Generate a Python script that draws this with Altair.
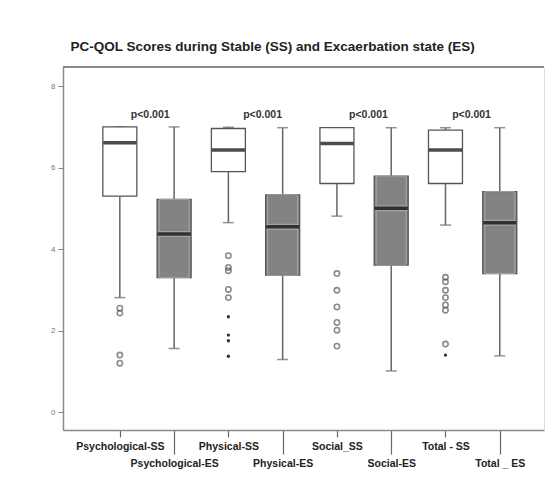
import altair as alt
import pandas as pd

categories = ["Psychological-SS", "Psychological-ES", "Physical-SS", "Physical-ES",
              "Social_SS", "Social-ES", "Total - SS", "Total _ ES"]
groups = ["SS", "ES", "SS", "ES", "SS", "ES", "SS", "ES"]
whisker_low = [2.81, 1.56, 4.65, 1.29, 4.81, 1.01, 4.59, 1.38]
q1 = [5.30, 3.30, 5.90, 3.36, 5.61, 3.61, 5.61, 3.40]
median = [6.61, 4.37, 6.43, 4.55, 6.59, 5.00, 6.43, 4.65]
q3 = [7.00, 5.22, 6.96, 5.33, 6.98, 5.79, 6.92, 5.41]
whisker_high = [7.00, 7.00, 6.99, 6.98, 6.98, 6.98, 6.98, 6.98]

# outliers (circles) and extremes (stars): category index, value
outlier_cat = [0, 0, 0, 0, 2, 2, 2, 2, 2, 4, 4, 4, 4, 4, 4, 6, 6, 6, 6, 6, 6, 6]
outlier_val = [2.55, 2.43, 1.40, 1.20, 3.84, 3.55, 3.47, 3.01, 2.81,
               3.40, 2.99, 2.58, 2.20, 2.01, 1.62,
               3.31, 3.20, 2.99, 2.81, 2.63, 2.50, 1.67]
extreme_cat = [2, 2, 2, 2, 6]
extreme_val = [2.34, 1.89, 1.75, 1.37, 1.40]

p_text = ["p<0.001", "p<0.001", "p<0.001", "p<0.001"]
p_pos = [0.56, 2.63, 4.58, 6.48]
p_val = [7.30, 7.30, 7.30, 7.30]

title = "PC-QOL Scores during Stable (SS) and Excaerbation state (ES)"

boxes = pd.DataFrame({
    "pos": list(range(len(categories))), "cat": categories, "group": groups,
    "lo": whisker_low, "q1": q1, "med": median, "q3": q3, "hi": whisker_high,
})
outl = pd.DataFrame({"pos": outlier_cat, "v": outlier_val})
extr = pd.DataFrame({"pos": extreme_cat, "v": extreme_val})
pdf = pd.DataFrame({"pos": p_pos, "v": p_val, "t": p_text})

W, H = 481, 363
names_js = "[" + ",".join("'" + c + "'" for c in categories) + "]"
label_expr = f"{names_js}[datum.value]"

xscale = alt.Scale(domain=[-0.955, 7.723], nice=False, zero=False)
yscale = alt.Scale(domain=[-0.44, 8.47], nice=False, zero=False)

xaxis = alt.Axis(values=list(range(len(categories))), labelExpr=label_expr, title=None,
                 grid=False, domainColor="#8a8a8a", domainWidth=1.5,
                 tickColor="#666", tickWidth=1.2,
                 tickSize={"condition": {"test": "datum.value % 2 == 1", "value": 24}, "value": 7},
                 labelFont="Liberation Sans", labelFontWeight="bold", labelFontSize=10.5,
                 labelColor="#222", labelPadding=4, labelBaseline="top",
                 labelFlush=False, labelOverlap=False, labelBound=False)
yaxis = alt.Axis(values=[0, 2, 4, 6, 8], title=None, grid=False,
                 domainColor="#8a8a8a", domainWidth=1.5, tickColor="#888", tickSize=5,
                 labelFont="Liberation Sans", labelFontSize=8, labelColor="#777",
                 labelPadding=3)

X = alt.X("pos:Q", scale=xscale, axis=xaxis)
Y_lo = alt.Y("lo:Q", scale=yscale, axis=yaxis)

base = alt.Chart(boxes)

whisk_lo = base.mark_rule(color="#666", strokeWidth=1.5).encode(x=X, y=Y_lo, y2="q1:Q")
whisk_hi = base.mark_rule(color="#666", strokeWidth=1.5).encode(x=X, y=alt.Y("q3:Q", scale=yscale), y2="hi:Q")
cap_lo = base.mark_tick(orient="horizontal", size=11, thickness=1.5, color="#666").encode(
    x=X, y=alt.Y("lo:Q", scale=yscale))
cap_hi = base.mark_tick(orient="horizontal", size=11, thickness=1.5, color="#666").encode(
    x=X, y=alt.Y("hi:Q", scale=yscale))
box = base.mark_bar(size=34, stroke="#555", strokeWidth=1.3).encode(
    x=X, y=alt.Y("q1:Q", scale=yscale), y2="q3:Q",
    fill=alt.Fill("group:N", scale=alt.Scale(domain=["SS", "ES"], range=["#ffffff", "#838383"]),
                  legend=None))
inner = base.transform_filter("datum.group == 'ES'").mark_bar(
    size=30, fill=None, stroke="#a6a6a6", strokeWidth=1).encode(
    x=X, y=alt.Y("q1:Q", scale=yscale), y2="q3:Q")
med_halo = base.transform_filter("datum.group == 'ES'").mark_tick(
    orient="horizontal", size=32, thickness=6, color="#b0b0b0").encode(
    x=X, y=alt.Y("med:Q", scale=yscale))
med = base.mark_tick(orient="horizontal", size=33, thickness=3.5, color="#000").encode(
    x=X, y=alt.Y("med:Q", scale=yscale))

out_pts = alt.Chart(outl).mark_point(shape="circle", size=28, filled=False, color="#5a5a5a",
                                     strokeWidth=1.6).encode(
    x=alt.X("pos:Q", scale=xscale), y=alt.Y("v:Q", scale=yscale))
ext_pts = alt.Chart(extr).mark_point(shape="circle", size=11, filled=True, color="#333",
                                     opacity=1).encode(
    x=alt.X("pos:Q", scale=xscale), y=alt.Y("v:Q", scale=yscale))
ptxt = alt.Chart(pdf).mark_text(font="Liberation Sans", fontWeight="bold", fontSize=10.5,
                                color="#333", baseline="middle").encode(
    x=alt.X("pos:Q", scale=xscale), y=alt.Y("v:Q", scale=yscale), text="t:N")

top_line = alt.Chart(boxes).mark_rule(color="#8a8a8a", strokeWidth=1.5).encode(
    x=alt.value(0), x2=alt.value(W), y=alt.value(0))

chart = alt.layer(
    whisk_lo, whisk_hi, cap_lo, cap_hi, box, inner, med_halo, med, out_pts, ext_pts, ptxt, top_line
).properties(
    width=W, height=H,
    autosize=alt.AutoSizeParams(type="none"),
    padding={"left": 55, "top": 59, "right": 1, "bottom": 50},
    title=alt.Title(title, anchor="start", dx=20, offset=13, font="Liberation Sans",
                    fontSize=13.5, fontWeight="bold", color="#222"),
).configure_view(fill="#f0f0f0", stroke=None).configure(background="white")

chart.save("out.html", embed_options={"renderer": "svg", "actions": False})
